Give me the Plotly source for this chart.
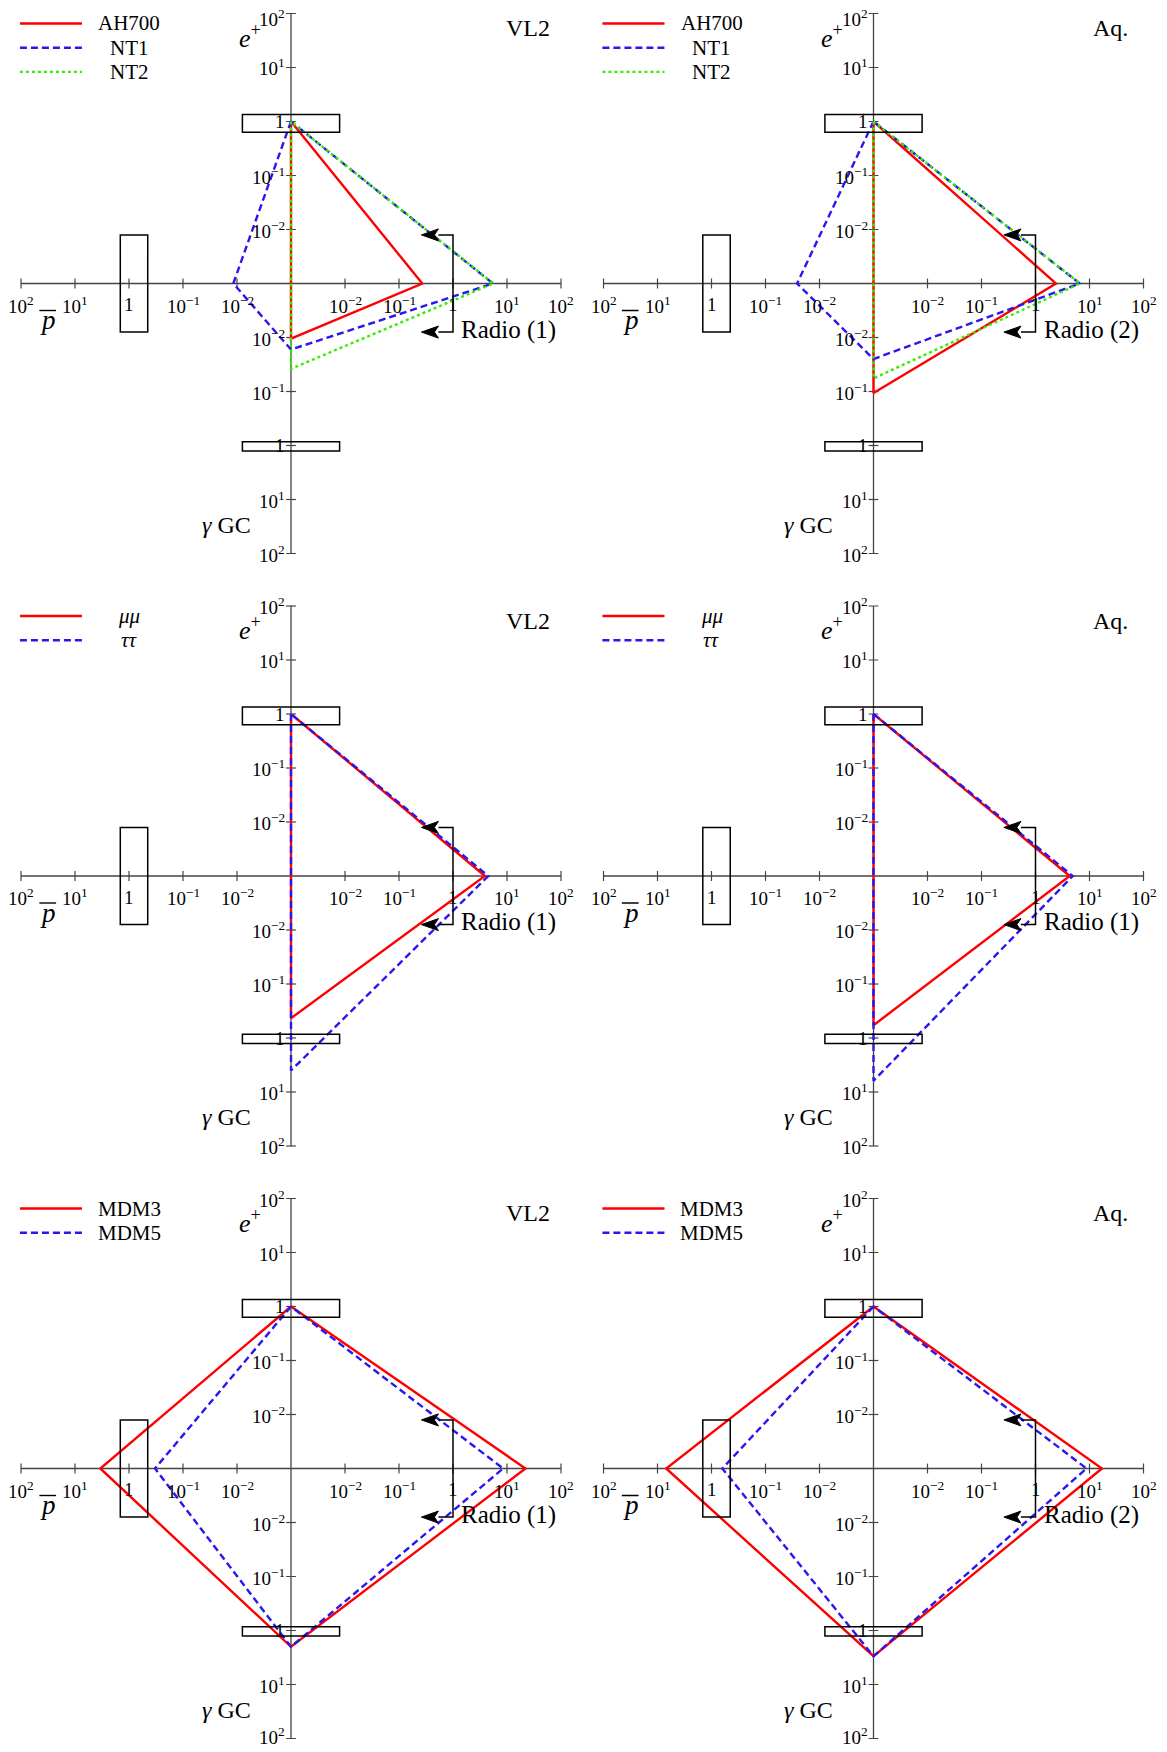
import numpy as np
import plotly.graph_objects as go

# the page body adds an 8px margin, so the figure is 16px smaller than the window
W, H = 1151, 1736
DEC = 54.0                      # pixels per decade on every spoke
COL_CX = [283, 865.5]           # panel centres, pixels from left of the figure
ROW_CY = [275.5, 868, 1460.5]   # panel centres, pixels from top of the figure
HALF_W, HALF_H = 282, 275

# spokes: e+ (up), pbar (left), gamma GC (down), radio (right)
TICK_VALUES = [0.01, 0.1, 1, 10, 100]
TICK_LABELS = ["10<sup>−2</sup>", "10<sup>−1</sup>", "1", "10<sup>1</sup>", "10<sup>2</sup>"]

BOX_EPOS = [0.63, 1.35]
BOX_PBAR = [0.45, 1.45]
BOX_GAMMA = [0.85, 1.26]
RADIO_LIMIT = [1.0, 0.26]

SIM_TITLES = ["VL2", "Aq."]
RADIO_LABELS = [["Radio (1)", "Radio (2)"],
                ["Radio (1)", "Radio (1)"],
                ["Radio (1)", "Radio (2)"]]

# row 1
NAMES_1 = ["AH700", "NT1", "NT2"]
VL2_AH700 = [1.0, 0, 0.0105, 0.27]
VL2_NT1 = [1.0, 0.0117, 0.0167, 5.5]
VL2_NT2 = [1.0, 0, 0.038, 5.6]
AQ_AH700 = [1.0, 0, 0.107, 2.4]
AQ_NT1 = [1.0, 0.026, 0.025, 6.6]
AQ_NT2 = [1.0, 0, 0.057, 6.7]

# row 2
NAMES_2 = ["<i>μμ</i>", "<i>ττ</i>"]
VL2_MUMU = [1.0, 0, 0.43, 3.9]
VL2_TAUTAU = [1.0, 0, 4.0, 4.5]
AQ_MUMU = [1.0, 0, 0.58, 4.3]
AQ_TAUTAU = [1.0, 0, 6.2, 4.9]

# row 3
NAMES_3 = ["MDM3", "MDM5"]
VL2_MDM3 = [1.0, 3.4, 2.0, 22]
VL2_MDM5 = [1.0, 0.33, 2.0, 8.5]
AQ_MDM3 = [1.0, 6.9, 3.0, 17]
AQ_MDM5 = [1.0, 0.63, 3.0, 8.8]

STYLES = [dict(color="#ff0000", dash="solid"),
          dict(color="#2a16f0", dash="7px,4px"),
          dict(color="#33ee00", dash="3px,3px")]

PANELS = [
    (0, 0, [VL2_AH700, VL2_NT1, VL2_NT2], NAMES_1),
    (0, 1, [AQ_AH700, AQ_NT1, AQ_NT2], NAMES_1),
    (1, 0, [VL2_MUMU, VL2_TAUTAU], NAMES_2),
    (1, 1, [AQ_MUMU, AQ_TAUTAU], NAMES_2),
    (2, 0, [VL2_MDM3, VL2_MDM5], NAMES_3),
    (2, 1, [AQ_MDM3, AQ_MDM5], NAMES_3),
]

SERIF = "Liberation Serif, Times New Roman, serif"
AXIS_COL = "#444444"


def rad(v):
    # distance from the centre in decades; centre = 1e-3 (or nothing)
    return float(np.log10(v) + 3) if v > 0 else 0.0


fig = go.Figure()
layout_axes = {}
annotations = []
shapes = []

for i, (row, col, series, names) in enumerate(PANELS):
    sfx = "" if i == 0 else str(i + 1)
    xa, ya = "x" + sfx, "y" + sfx
    cx, cy = COL_CX[col], ROW_CY[row]
    layout_axes["xaxis" + sfx] = dict(
        domain=[(cx - HALF_W) / W, (cx + HALF_W) / W],
        range=[-HALF_W / DEC, HALF_W / DEC], visible=False, fixedrange=True)
    layout_axes["yaxis" + sfx] = dict(
        domain=[1 - (cy + HALF_H) / H, 1 - (cy - HALF_H) / H],
        range=[-HALF_H / DEC, HALF_H / DEC], visible=False, fixedrange=True)

    rt = [rad(t) for t in TICK_VALUES]
    rmax = rt[-1]

    # spokes with tick marks
    fig.add_trace(go.Scatter(x=[-rmax, rmax], y=[0, 0], xaxis=xa, yaxis=ya, mode="lines",
                             line=dict(color=AXIS_COL, width=1.3), showlegend=False, hoverinfo="skip"))
    fig.add_trace(go.Scatter(x=[0, 0], y=[-rmax, rmax], xaxis=xa, yaxis=ya, mode="lines",
                             line=dict(color=AXIS_COL, width=1.3), showlegend=False, hoverinfo="skip"))
    fig.add_trace(go.Scatter(x=[-r for r in rt] + rt, y=[0] * (2 * len(rt)), xaxis=xa, yaxis=ya,
                             mode="markers", marker=dict(symbol="line-ns", size=7,
                                                         line=dict(color=AXIS_COL, width=1.2)),
                             showlegend=False, hoverinfo="skip"))
    fig.add_trace(go.Scatter(x=[0] * (2 * len(rt)), y=[-r for r in rt] + rt, xaxis=xa, yaxis=ya,
                             mode="markers", marker=dict(symbol="line-ew", size=7,
                                                         line=dict(color=AXIS_COL, width=1.2)),
                             showlegend=False, hoverinfo="skip"))

    tick_font = dict(family=SERIF, size=19, color="black")
    for r, lab in zip(rt, TICK_LABELS):
        for yy in (r, -r):
            # keep the outermost labels of the first and last rows inside the page
            ys = 0
            if row == 0 and yy == rmax:
                ys = -5
            elif row == 2 and yy == -rmax:
                ys = 3
            annotations.append(dict(x=0, y=yy, xref=xa, yref=ya, text=lab, showarrow=False,
                                    xanchor="right", yanchor="middle", xshift=-4, yshift=ys,
                                    font=tick_font))
        for xx in (r, -r):
            annotations.append(dict(x=xx, y=0, xref=xa, yref=ya, text=lab, showarrow=False,
                                    xanchor="center", yanchor="middle", yshift=-21, font=tick_font))

    # constraint boxes
    box_line = dict(color="black", width=1.5)
    shapes.append(dict(type="rect", xref=xa, yref=ya, x0=-0.9, x1=0.9,
                       y0=rad(BOX_EPOS[0]), y1=rad(BOX_EPOS[1]), line=box_line))
    shapes.append(dict(type="rect", xref=xa, yref=ya, x0=-rad(BOX_PBAR[1]), x1=-rad(BOX_PBAR[0]),
                       y0=-0.9, y1=0.9, line=box_line))
    shapes.append(dict(type="rect", xref=xa, yref=ya, x0=-0.9, x1=0.9,
                       y0=-rad(BOX_GAMMA[1]), y1=-rad(BOX_GAMMA[0]), line=box_line))
    # radio upper-limit bracket with arrows
    rb, tip = rad(RADIO_LIMIT[0]), rad(RADIO_LIMIT[1])
    head = 17 / DEC
    shapes.append(dict(type="path", xref=xa, yref=ya, line=box_line,
                       path=f"M{tip + head},0.9 L{rb},0.9 L{rb},-0.9 L{tip + head},-0.9"))
    hh, notch = 6 / DEC, 4 / DEC
    for yy in (0.9, -0.9):
        shapes.append(dict(type="path", xref=xa, yref=ya, fillcolor="black",
                           line=dict(color="black", width=1),
                           path=(f"M{tip},{yy} L{tip + head},{yy + hh} L{tip + head - notch},{yy} "
                                 f"L{tip + head},{yy - hh} Z")))

    # model quadrilaterals
    for vals, name, st in zip(series, names, STYLES):
        r = [rad(v) for v in vals]
        fig.add_trace(go.Scatter(x=[0, -r[1], 0, r[3], 0], y=[r[0], 0, -r[2], 0, r[0]],
                                 xaxis=xa, yaxis=ya, mode="lines", name=name,
                                 line=dict(color=st["color"], dash=st["dash"], width=2.4),
                                 showlegend=False, hoverinfo="skip"))

    # legend drawn inside the panel
    for k, (name, st) in enumerate(zip(names, STYLES)):
        ly = (283.5 - 23.5 - 24.2 * k) / DEC
        fig.add_trace(go.Scatter(x=[-5.02, -3.87], y=[ly, ly], xaxis=xa, yaxis=ya, mode="lines",
                                 line=dict(color=st["color"], dash=st["dash"], width=2.4),
                                 showlegend=False, hoverinfo="skip"))
        annotations.append(dict(x=-3.0, y=ly, xref=xa, yref=ya, text=name, showarrow=False,
                                xanchor="center", yanchor="middle",
                                font=dict(family=SERIF, size=21, color="black")))

    big = dict(family=SERIF, size=24, color="black")
    annotations.append(dict(x=4.38, y=(283.5 - 28) / DEC, xref=xa, yref=ya, text=SIM_TITLES[col],
                            showarrow=False, xanchor="center", yanchor="middle", font=big))
    annotations.append(dict(x=-0.76, y=4.58, xref=xa, yref=ya, text="<i>e</i><sup>+</sup>",
                            showarrow=False, xanchor="center", yanchor="middle",
                            font=dict(family=SERIF, size=26, color="black")))
    annotations.append(dict(x=-4.5, y=-0.68, xref=xa, yref=ya, text="<i>p</i>",
                            showarrow=False, xanchor="center", yanchor="middle",
                            font=dict(family=SERIF, size=27, color="black")))
    shapes.append(dict(type="line", xref=xa, yref=ya, x0=-4.66, x1=-4.35, y0=-0.5, y1=-0.5,
                       line=dict(color="black", width=1.4)))
    annotations.append(dict(x=-1.2, y=-4.47, xref=xa, yref=ya, text="<i>γ</i> GC",
                            showarrow=False, xanchor="center", yanchor="middle", font=big))
    annotations.append(dict(x=4.03, y=-0.86, xref=xa, yref=ya, text=RADIO_LABELS[row][col],
                            showarrow=False, xanchor="center", yanchor="middle",
                            font=dict(family=SERIF, size=25, color="black")))

fig.update_layout(
    width=W, height=H,
    margin=dict(l=0, r=0, t=0, b=0),
    paper_bgcolor="white", plot_bgcolor="white",
    showlegend=False,
    annotations=annotations,
    shapes=shapes,
    **layout_axes,
)

fig.write_html("out.html")
